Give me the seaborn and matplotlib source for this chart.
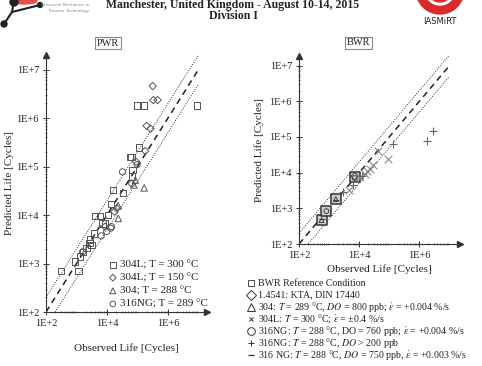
import numpy as np
import seaborn as sns
import matplotlib
matplotlib.use("Agg")
import matplotlib.pyplot as plt
from matplotlib.ticker import LogLocator, FixedLocator, FixedFormatter, NullFormatter
from matplotlib.patches import Ellipse
from matplotlib.lines import Line2D

# ---- data (log10 of cycles) ----
pwr_304L_300_x = [4.99, 5.21, 6.95, 5.05, 4.75, 4.80, 4.84, 4.82, 4.20, 4.52, 4.13, 3.61, 3.77,
                  4.04, 3.58, 3.44, 3.42, 3.50, 3.33, 3.22, 3.11, 2.95, 3.06, 2.49, 3.86, 3.93]
pwr_304L_300_y = [6.26, 6.26, 6.26, 5.39, 5.20, 5.20, 4.93, 4.79, 4.52, 4.45, 4.23, 3.98, 3.98,
                  4.00, 3.62, 3.50, 3.42, 3.38, 3.32, 3.24, 3.14, 3.04, 2.85, 2.85, 3.83, 3.83]
pwr_304L_150_x = [5.50, 5.52, 5.66, 5.30, 5.43, 5.25, 4.81, 4.32, 4.24, 3.93, 4.95]
pwr_304L_150_y = [6.66, 6.37, 6.37, 5.84, 5.78, 5.32, 4.65, 4.14, 4.07, 3.76, 5.10]
pwr_304_288_x = [5.22, 4.93, 4.37, 4.37, 4.88]
pwr_304_288_y = [4.56, 4.72, 4.19, 3.93, 4.62]
pwr_316NG_289_x = [4.99, 4.51, 4.12, 3.81, 3.20, 4.15, 3.99]
pwr_316NG_289_y = [5.04, 4.89, 3.73, 3.57, 3.24, 3.76, 3.66]

bwr_ref_x = [2.75, 2.91, 3.22, 3.85]
bwr_ref_y = [2.67, 2.92, 3.26, 3.87]
bwr_kta_x = [3.85]
bwr_kta_y = [3.90]
bwr_304_x = [3.22, 2.75]
bwr_304_y = [3.26, 2.67]
bwr_304L_x = [4.02, 4.19, 4.27, 4.36, 4.47, 4.63, 4.97, 3.66]
bwr_304L_y = [3.89, 3.96, 4.05, 4.10, 4.21, 4.61, 4.38, 3.51]
bwr_316NG_760_x = [3.85, 2.91]
bwr_316NG_760_y = [3.85, 2.92]
bwr_316NG_200_x = [5.11, 6.27, 6.45, 3.80, 4.08, 3.46]
bwr_316NG_200_y = [4.79, 4.89, 5.17, 3.65, 3.90, 3.47]
bwr_316NG_750_x = [3.22, 2.75]
bwr_316NG_750_y = [3.24, 2.69]

ref_n = [2.0, 7.0]          # 1:1 line (log10)
scatter_band = 0.3          # factor of 2 band (log10)

pwr_labels = ["304L; T = 300 °C", "304L; T = 150 °C", "304; T = 288 °C", "316NG; T = 289 °C"]
bwr_labels = [
    "BWR Reference Condition",
    "1.4541: KTA, DIN 17440",
    r"304: $T$ = 289 °C, $DO$ = 800 ppb; $\dot{\varepsilon}$ = +0.004 %/s",
    r"304L: $T$ = 300 °C; $\dot{\varepsilon}$ = ±0.4 %/s",
    r"316NG: $T$ = 288 °C, DO = 760 ppb; $\dot{\varepsilon}$ = +0.004 %/s",
    r"316NG: $T$ = 288 °C, $DO$ > 200 ppb",
    r"316 NG: $T$ = 288 °C, $DO$ = 750 ppb, $\dot{\varepsilon}$ = +0.003 %/s",
]

sns.set_style("white")
plt.rcParams["font.family"] = ["Liberation Serif", "DejaVu Serif"]
plt.rcParams["mathtext.fontset"] = "stix"

W, H = 482, 366
fig = plt.figure(figsize=(W / 100, H / 100), dpi=100)


def pos(l, t, r, b):
    return [l / W, 1 - b / H, (r - l) / W, (b - t) / H]


def c(v):
    return 10 ** np.asarray(v, dtype=float)


def style_axes(ax, xmax, ymax):
    ax.set_xscale("log")
    ax.set_yscale("log")
    ax.set_xlim(1e2, 10 ** xmax)
    ax.set_ylim(1e2, 10 ** ymax)
    for s in ["top", "right"]:
        ax.spines[s].set_visible(False)
    for s in ["left", "bottom"]:
        ax.spines[s].set_color("#333333")
        ax.spines[s].set_linewidth(0.8)
    ax.xaxis.set_major_locator(FixedLocator([1e2, 1e4, 1e6]))
    ax.xaxis.set_major_formatter(FixedFormatter(["1E+2", "1E+4", "1E+6"]))
    ax.yaxis.set_major_locator(FixedLocator([1e2, 1e3, 1e4, 1e5, 1e6, 1e7]))
    ax.yaxis.set_major_formatter(FixedFormatter(["1E+2", "1E+3", "1E+4", "1E+5", "1E+6", "1E+7"]))
    ax.xaxis.set_minor_locator(LogLocator(base=10, subs=np.arange(2, 10), numticks=20))
    ax.yaxis.set_minor_locator(LogLocator(base=10, subs=np.arange(2, 10), numticks=20))
    ax.xaxis.set_minor_formatter(NullFormatter())
    ax.yaxis.set_minor_formatter(NullFormatter())
    ax.tick_params(which="major", direction="inout", length=4, width=0.7, labelsize=7.5,
                   colors="#333333", labelcolor="#222222", left=True, bottom=True, pad=3)
    ax.tick_params(which="minor", direction="inout", length=2, width=0.5, colors="#555555",
                   left=True, bottom=True)
    ax.plot(1, 0, ">", color="#333333", ms=4, transform=ax.transAxes, clip_on=False)
    ax.plot(0, 1, "^", color="#333333", ms=4, transform=ax.transAxes, clip_on=False)
    rx = c(ref_n)
    ax.plot(rx, rx, ls=(0, (4, 3)), color="#222222", lw=1.1)
    ax.plot(rx, rx * 10 ** scatter_band, ls=(0, (1, 1.5)), color="#333333", lw=0.7)
    ax.plot(rx, rx / 10 ** scatter_band, ls=(0, (1, 1.5)), color="#333333", lw=0.7)


# ---- PWR panel ----
ax1 = fig.add_axes(pos(46, 55, 207, 312))
style_axes(ax1, 7.28, 7.3)
grey = "#555555"
kw = dict(facecolor="none", linewidth=0.7, ax=ax1, zorder=3)
sns.scatterplot(x=c(pwr_304L_300_x), y=c(pwr_304L_300_y), marker="s", s=22, edgecolor=grey,
                label=pwr_labels[0], **kw)
sns.scatterplot(x=c(pwr_304L_150_x), y=c(pwr_304L_150_y), marker="D", s=14, edgecolor=grey,
                label=pwr_labels[1], **kw)
sns.scatterplot(x=c(pwr_304_288_x), y=c(pwr_304_288_y), marker="^", s=22, edgecolor=grey,
                label=pwr_labels[2], **kw)
sns.scatterplot(x=c(pwr_316NG_289_x), y=c(pwr_316NG_289_y), marker="o", s=20, edgecolor=grey,
                label=pwr_labels[3], **kw)
leg = ax1.legend(loc="lower right", bbox_to_anchor=(1.03, -0.005), frameon=False, fontsize=8,
                 handletextpad=0.1, labelspacing=0.3, borderaxespad=0, handlelength=1.0,
                 markerscale=0.9)
for t in leg.get_texts():
    t.set_color("#222222")
ax1.set_xlabel("Observed Life [Cycles]", fontsize=8, color="#222222", labelpad=11)
ax1.set_ylabel("Predicted Life [Cycles]", fontsize=8, color="#222222", labelpad=2)
ax1.text(0.385, 1.045, "PWR", transform=ax1.transAxes, ha="center", va="center", fontsize=7.5,
         color="#222222", bbox=dict(boxstyle="square,pad=0.15", fc="white", ec="#888888", lw=0.8))

# ---- BWR panel ----
ax2 = fig.add_axes(pos(299, 56, 460, 244))
style_axes(ax2, 7.35, 7.27)
kw2 = dict(ax=ax2, zorder=3, legend=False)
sns.scatterplot(x=c(bwr_ref_x), y=c(bwr_ref_y), marker="s", s=48, facecolor="#cfcfcf",
                edgecolor="#333333", linewidth=1.1, **kw2)
sns.scatterplot(x=c(bwr_kta_x), y=c(bwr_kta_y), marker="D", s=14, facecolor="none",
                edgecolor="#444444", linewidth=0.7, **kw2)
sns.scatterplot(x=c(bwr_304_x), y=c(bwr_304_y), marker="^", s=12, facecolor="none",
                edgecolor="#444444", linewidth=0.7, **kw2)
sns.scatterplot(x=c(bwr_304L_x), y=c(bwr_304L_y), marker="x", s=30, color="#888888",
                linewidth=0.8, **kw2)
sns.scatterplot(x=c(bwr_316NG_760_x), y=c(bwr_316NG_760_y), marker="o", s=12, facecolor="none",
                edgecolor="#444444", linewidth=0.7, **kw2)
sns.scatterplot(x=c(bwr_316NG_200_x), y=c(bwr_316NG_200_y), marker="+", s=36, color="#666666",
                linewidth=0.8, **kw2)
sns.scatterplot(x=c(bwr_316NG_750_x), y=c(bwr_316NG_750_y), marker="_", s=16, color="#444444",
                linewidth=0.8, **kw2)
ax2.set_xlabel("Observed Life [Cycles]", fontsize=8, color="#222222", labelpad=3)
ax2.set_ylabel("Predicted Life [Cycles]", fontsize=8, color="#222222", labelpad=4)
ax2.text(0.37, 1.07, "BWR", transform=ax2.transAxes, ha="center", va="center", fontsize=7.5,
         color="#222222", bbox=dict(boxstyle="square,pad=0.15", fc="white", ec="#888888", lw=0.8))

# BWR legend below the panel, one row per series
leg_markers = [("s", 4, 0.6), ("D", 5, 0.7), ("^", 6, 0.7), ("x", 3.5, 0.7),
               ("o", 5.5, 0.7), ("+", 5, 0.7), ("_", 5, 0.9)]
row_y = 283
for (m, ms, mew), lab in zip(leg_markers, bwr_labels):
    fy = 1 - row_y / H
    fig.add_artist(Line2D([251 / W], [fy], ls="", marker=m, ms=ms, mfc="none",
                          mec="#333333", mew=mew))
    fig.text(258 / W, fy, lab, ha="left", va="center", fontsize=7.1, color="#222222")
    row_y += 12

# ---- header ----
fig.text(233 / W, 1 - 5 / H, "Manchester, United Kingdom - August 10-14, 2015", ha="center",
         va="center", fontsize=8.5, fontweight="bold", color="#222222")
fig.text(233 / W, 1 - 16 / H, "Division I", ha="center", va="center", fontsize=8.5,
         fontweight="bold", color="#222222")

# left logo
fig.add_artist(Ellipse((24 / W, 1 - 1 / H), 26 / W, 6 / H, transform=fig.transFigure,
                       color="#e05050"))
fig.add_artist(Line2D([4 / W, 12 / W, 40 / W], [1 - 24 / H, 1 - 12 / H, 1 - 5 / H],
                      color="#222222", lw=1.5))
fig.add_artist(Line2D([12 / W, 14 / W], [1 - 12 / H, 1 - 1 / H], color="#222222", lw=1.5))
fig.add_artist(Ellipse((4 / W, 1 - 24 / H), 6 / W, 6 / H, transform=fig.transFigure,
                       color="#222222"))
fig.add_artist(Ellipse((40 / W, 1 - 5 / H), 5 / W, 5 / H, transform=fig.transFigure,
                       color="#222222"))
fig.add_artist(Ellipse((14 / W, 1 - 2 / H), 8 / W, 8 / H, transform=fig.transFigure,
                       color="#222222"))
fig.text(89 / W, 1 - 5 / H, "Structural Mechanics in", ha="right", va="center", fontsize=3,
         color="#888888", family="DejaVu Sans")
fig.text(89 / W, 1 - 11 / H, "Reactor Technology", ha="right", va="center", fontsize=3,
         color="#888888", family="DejaVu Sans")

# right logo
fig.add_artist(Ellipse((440 / W, 1 + 10 / H), 48 / W, 48 / H, transform=fig.transFigure,
                       color="#d92b2b"))
fig.add_artist(Ellipse((440 / W, 1 + 10 / H), 30 / W, 30 / H, transform=fig.transFigure,
                       color="white"))
fig.add_artist(Ellipse((440 / W, 1 + 10 / H), 24 / W, 24 / H, transform=fig.transFigure,
                       color="#d92b2b"))
fig.text(440 / W, 1 - 22 / H, "IASMiRT", ha="center", va="center", fontsize=6,
         color="#222222", family="DejaVu Sans")

fig.savefig("out.png", dpi=100)
